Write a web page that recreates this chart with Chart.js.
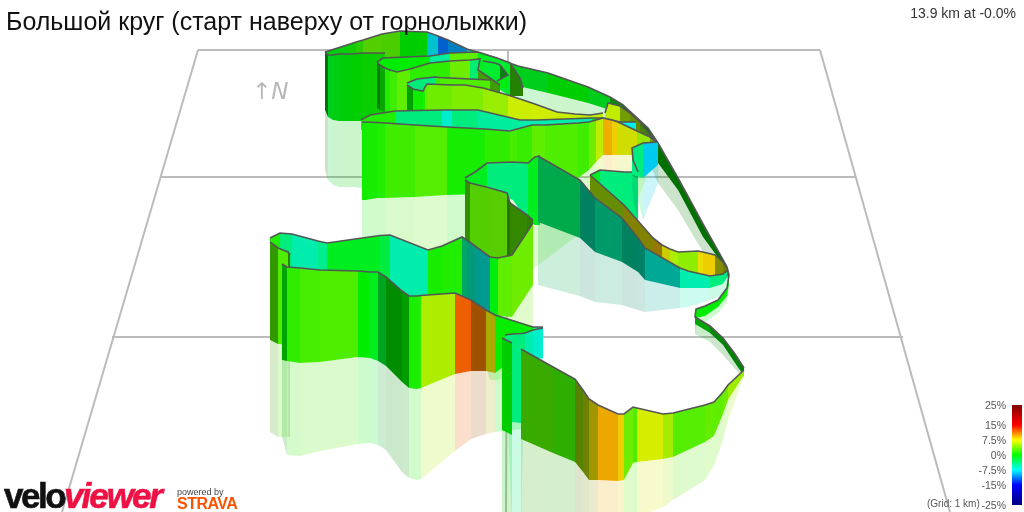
<!DOCTYPE html>
<html>
<head>
<meta charset="utf-8">
<title>Большой круг</title>
<script src="https://cdn.jsdelivr.net/npm/chart.js@4"></script>
<style>
  html, body { margin: 0; padding: 0; background: #fff; }
  #wrap { position: relative; width: 1024px; height: 512px; overflow: hidden; font-family: "Liberation Sans", Arial, sans-serif; }
  #wrap div, #wrap span { position: absolute; white-space: nowrap; }
  canvas { position: absolute; left: 0; top: 0; }
  #title { left: 6px; top: 6px; font-size: 25px; line-height: 30px; color: #111; }
  #stats { right: 8px; top: 4px; font-size: 14px; line-height: 18px; color: #333; }
  #north { left: 252px; top: 78px; font: italic 23px/26px "DejaVu Sans", sans-serif; color: #b8b8b8; }
  #gridNote { left: 927px; top: 498px; font-size: 10px; line-height: 12px; color: #555; }
  #bar { left: 1012px; top: 405px; width: 10px; height: 100px; }
  .tick { right: 18px; font-size: 10.5px; line-height: 12px; color: #555; }
  #velo { left: 4px; top: 476px; font: bold 35px/40px "Liberation Sans", sans-serif; letter-spacing: -2.5px; color: #111; -webkit-text-stroke: 0.6px #111; }
  #viewer { left: 64px; top: 476px; font: italic bold 35px/40px "Liberation Sans", sans-serif; letter-spacing: -2px; color: #ee1144; -webkit-text-stroke: 0.6px #ee1144; }
  #powered { left: 177px; top: 486px; font-size: 9px; line-height: 12px; color: #444; }
  #strava { left: 177px; top: 495px; font: bold 16px/18px "Liberation Sans", sans-serif; letter-spacing: -0.5px; color: #fc5200; }
</style>
</head>
<body>
<div id="wrap">
  <canvas id="route3d" width="1024" height="512"></canvas>
  <div id="title">Большой круг (старт наверху от горнолыжки)</div>
  <div id="stats">13.9 km at -0.0%</div>
  <div id="north">↑N</div>
  <div id="gridNote">(Grid: 1 km)</div>
  <div id="bar"></div>
  <div id="velo">velo</div>
  <div id="viewer">viewer</div>
  <div id="powered">powered by</div>
  <div id="strava">STRAVA</div>
</div>
<script>
// ── Legend ──
const legendGrades = [25, 15, 7.5, 0, -7.5, -15, -25];
const legendLabels = ['25%', '15%', '7.5%', '0%', '-7.5%', '-15%', '-25%'];
const legendRgb = [[128,0,0], [255,0,0], [255,255,0], [0,255,0], [0,255,255], [0,0,255], [0,0,128]];

// ── Ground grid (picture coordinates) ──
const gridBackX = [198, 820];   const gridBackY = [50, 50];
const gridMidX = [160, 855];    const gridMidY = [177, 177];
const gridFrontX = [112, 903];  const gridFrontY = [337, 337];
const gridLeftX = [198, 62];    const gridLeftY = [50, 512];
const gridRightX = [820, 950];  const gridRightY = [50, 512];
const gridCenterX = [508, 506]; const gridCenterY = [50, 512];

// ── Route walls, back to front: x, wall top, wall foot, shadow foot, grade % per strip ──
const backFarX = [325,347,356,363,382,400,427,438,448,467,487,518,548,588,610,623,648,658,678,703,727];
const backFarTop = [52,45,42,40,34,31,32,36,40,49,55,66,73,87,97,105,128,143,178,224,267];
const backFarBase = [100,100,100,100,100,100,100,100,100,100,75,86,93,103,110,118,143,163,190,237,270];
const backFarGhost = [100,100,100,100,100,100,100,100,100,100,80,108,113,125,135,140,160,183,210,252,272];
const backFarGrade = [-0.5,0.5,1.5,3,2.7,0,-8,-11.5,-10,-5,-1,-1,0,-1,0,0,0,0,0,0];

const topNearX = [325,328,333,339,345,352,362,372,385];
const topNearTop = [52,55,55,54,54,54,53,53,53];
const topNearBase = [110,117,120,121,121,121,121,121,121];
const topNearGhost = [170,180,185,187,187,187,188,188,188];
const topNearGrade = [-0.8,-1,-0.6,-0.3,-0.2,0,0.3,0.5];

const loopFarX = [377,383,430,450,478,487,497,510,520,523];
const loopFarTop = [62,58,56,53,52,55,58,63,78,88];
const loopFarBase = [75,75,75,75,75,80,88,96,96,96];
const loopFarGrade = [0,0,-5,3,-1,-1.5,-1.5,2,2.5];

const loopInnerX = [483,495,500,508,497];
const loopInnerTop = [61,63,65,75,81];
const loopInnerBase = [88,88,88,88,88];
const loopInnerGrade = [-1.5,-1.5,-0.5,-0.5];

const loopNearX = [377,380,385,390,397,410,430,450,470,480,478,490,500];
const loopNearTop = [62,65,68,70,72,69,63,61,60,59,70,78,85];
const loopNearBase = [108,110,112,114,116,116,116,116,116,116,110,110,110];
const loopNearGrade = [0,0.3,1,2,3,1.5,1.5,3.5,-3.5,-3.5,3,3];

const hairFarX = [407,417,435,440,470,490];
const hairFarTop = [83,79,77,77.5,79,80];
const hairFarBase = [92,92,92,92,92,92];
const hairFarGrade = [-4,-4,2,2.5,2.5];

const hairNearX = [407,413,423,425,427,452,465,483,508,532,557,575,590,603];
const hairNearTop = [85,89,91,87,84,85,85,88,95,103,112,114,115,113];
const hairNearBase = [122,122,122,122,122,122,122,122,122,122,122,122,122,122];
const hairNearGrade = [0,0.5,1,3,3.5,4,4,4.8,6.4,6.5,6.3,6,6];

const spikeX = [605,608,612,620,630,640,650,657];
const spikeTop = [113,103,104,106,113,122,135,143];
const spikeBase = [122,122,122,122,125,135,145,146];
const spikeGrade = [6,6,6,5.5,5.5,4,2];

const midFarX = [361,370,395,442,452,478,520,537,592,603,620,636];
const midFarTop = [120,115,111,110,110,110,120,120,118,118,122,122];
const midFarBase = [130,130,130,130,130,130,130,130,130,130,130,130];
const midFarGrade = [1,1,-4,-6.5,-4,-5,-5.5,-5.5,-1,0,-7.5];

const midNearX = [362,366,377,385,415,447,485,510,517,532,545,578,589,596,603,612,618,637,650,657];
const midNearTop = [122,122,122.5,123,125,127,129,131,129,125,125,123,122,120,118,120,122,131,137,142];
const midNearBase = [200,200,198,198,197,195,194,193,192,190,188,178,170,162,155,155,155,155,150,143];
const midNearGhost = [275,275,275,275,275,275,275,275,275,270,260,235,228,222,215,212,208,200,170,148];
const midNearGrade = [0.5,0.7,1,2,2.7,0.7,1.5,2.2,1.7,3,2.5,2,3.5,6,9.5,8.5,7,5,5];

const cuspFarX = [465,475,487,513,528,535,540];
const cuspFarTop = [178,172,163,162,163,157,156];
const cuspFarBase = [190,190,190,200,222,225,225];
const cuspFarGrade = [-1,-1,-4,-4,-1,-1];

const cuspNearX = [465,470,490,507,510,527,533];
const cuspNearTop = [180,183,188,193,203,215,220];
const cuspNearBase = [262,262,262,262,262,262,262];
const cuspNearGrade = [2.5,3,3.2,3,2.8,2.8];

const pocketX = [590,600,612,625,638];
const pocketTop = [175,170,171,172,172];
const pocketBase = [200,200,205,215,220];
const pocketGrade = [-1,-4,-4,-4];

const cyanX = [638,633,632,643,658];
const cyanTop = [172,160,148,143,142];
const cyanBase = [178,176,175,178,165];
const cyanGhost = [220,200,178,220,183];
const cyanGrade = [-4,-4,-4,-8.6];

const oliveX = [590,624,653,662,670,678,698,703,715,723,727];
const oliveTop = [175,205,238,245,249,252,251,252,255,262,268];
const oliveBase = [192,222,258,268,270,272,274,276,276,275,272];
const oliveGrade = [5.5,7.5,9,7.5,5.5,4.5,8,8.5,7,6];

const panelX = [538,580,595,622,638,645,680,688,710,723,728];
const panelTop = [156,180,198,218,238,248,268,271,276,274,270];
const panelBase = [222,238,252,262,272,280,288,288,288,284,276];
const panelGhost = [285,296,302,305,310,312,308,307,300,295,285];
const panelGrade = [-3.3,-5.6,-5.2,-5.6,-6,-6.6,-5.5,-5.6,-4,-4];

const bandX = [270,280,292,318,327,380,390,428,442,462,467,475,490,498,512,533];
const bandTop = [238,233,234,241,243,235.5,235,250,246,237,240,246,257,258,255,223];
const bandBase = [250,300,330,330,330,330,330,330,330,330,330,330,315,316,317,285];
const bandGhost = [250,300,330,330,330,330,330,330,330,330,330,330,380,380,375,340];
const bandGrade = [1,-4,-5.5,-4.5,-1,-2,-5.5,0.7,1,-4.5,-6,-7,-0.5,3,3.5];

const capX = [270,278,288,290];
const capTop = [242,248,252,255];
const capBase = [340,344,345,345];
const capGhost = [432,437,437,437];
const capGrade = [2.5,2.5,2.5];

const frontX = [282,287,300,320,358,370,378,386,402,409,417,421,455,471,486,495,533,543];
const frontTop = [264,267,268,270,271,272,272,277,291,296,296,295.5,293,300,310,315,327,327];
const frontBase = [360,361,363,362,357,358,361,366,382,388,389,388,374,371,371,373,345,340];
const frontGhost = [437,455,456,451,444,443,445,450,472,478,480,479,451,439,434,432,428,428];
const frontGrade = [0,1.5,2.2,2.5,0,-1,-1.5,0,0,0.8,1,5.5,12,11.2,7.5,0.2,-5];

const turnFarX = [505,512,521,525,533,543];
const turnFarTop = [335,334,333.5,333,330,328];
const turnFarBase = [345,422,423,360,360,358];
const turnFarGhost = [345,525,525,360,360,358];
const turnFarGrade = [-4,-4,-4,-5.5,-6.5];

const turnNearX = [502,512];
const turnNearTop = [338,343];
const turnNearBase = [430,435];
const turnNearGhost = [525,525];
const turnNearGrade = [0];

const tipX = [727,729,727,718,705,696,695,710,723,735,744];
const tipTop = [267,275,288,300,306,309,317,326,338,354,368];
const tipBase = [272,284,296,307,316,318,324,333,345,363,376];
const tipGhost = [277,290,302,313,322,326,334,342,355,369,378];
const tipGrade = [0,0,0,0,0,0,-0.3,-0.3,-0.3,-0.3];

const lastX = [521,553,575,583,589,598,618,624,633,637,663,673,705,714,723,728,744];
const lastTop = [349,367,379,390,399,405,414,414,407,408,414,413,405,402,392,385,370];
const lastBase = [439,453,462,472,480,480,481,480,463,462,459,457,442,436,414,400,375];
const lastGhost = [525,525,525,525,525,525,525,525,519,517,507,500,480,465,440,420,376];
const lastGrade = [2.5,2,5,6.2,8,9.7,8.5,3.5,2.5,6.8,5.2,2.7,3.2,3,3.5,5];

const ribbons = [
  { x: backFarX,   top: backFarTop,   base: backFarBase,   ghost: backFarGhost,  grade: backFarGrade,   dim: 0.87 },
  { x: topNearX,   top: topNearTop,   base: topNearBase,   ghost: topNearGhost,  grade: topNearGrade,   dim: 0.87 },
  { x: loopFarX,   top: loopFarTop,   base: loopFarBase,   grade: loopFarGrade },
  { x: loopInnerX, top: loopInnerTop, base: loopInnerBase, grade: loopInnerGrade },
  { x: loopNearX,  top: loopNearTop,  base: loopNearBase,  grade: loopNearGrade },
  { x: hairFarX,   top: hairFarTop,   base: hairFarBase,   grade: hairFarGrade },
  { x: hairNearX,  top: hairNearTop,  base: hairNearBase,  grade: hairNearGrade },
  { x: spikeX,     top: spikeTop,     base: spikeBase,     grade: spikeGrade },
  { x: midFarX,    top: midFarTop,    base: midFarBase,    grade: midFarGrade },
  { x: midNearX,   top: midNearTop,   base: midNearBase,   ghost: midNearGhost,  grade: midNearGrade },
  { x: cuspFarX,   top: cuspFarTop,   base: cuspFarBase,   grade: cuspFarGrade },
  { x: cuspNearX,  top: cuspNearTop,  base: cuspNearBase,  grade: cuspNearGrade,  dim: 0.87 },
  { x: pocketX,    top: pocketTop,    base: pocketBase,    grade: pocketGrade },
  { x: cyanX,      top: cyanTop,      base: cyanBase,      ghost: cyanGhost,     grade: cyanGrade },
  { x: oliveX,     top: oliveTop,     base: oliveBase,     grade: oliveGrade },
  { x: panelX,     top: panelTop,     base: panelBase,     ghost: panelGhost,    grade: panelGrade },
  { x: bandX,      top: bandTop,      base: bandBase,      ghost: bandGhost,     grade: bandGrade },
  { x: capX,       top: capTop,       base: capBase,       ghost: capGhost,      grade: capGrade },
  { x: frontX,     top: frontTop,     base: frontBase,     ghost: frontGhost,    grade: frontGrade },
  { x: turnFarX,   top: turnFarTop,   base: turnFarBase,   ghost: turnFarGhost,  grade: turnFarGrade },
  { x: turnNearX,  top: turnNearTop,  base: turnNearBase,  ghost: turnNearGhost, grade: turnNearGrade },
  { x: tipX,       top: tipTop,       base: tipBase,       ghost: tipGhost,      grade: tipGrade },
  { x: lastX,      top: lastTop,      base: lastBase,      ghost: lastGhost,     grade: lastGrade },
];

// ── Cores ──
function gradeRgb(g) {
  const v = Math.max(-25, Math.min(25, g));
  let i = 0;
  while (i < legendGrades.length - 2 && v < legendGrades[i + 1]) i++;
  const t = (legendGrades[i] - v) / (legendGrades[i] - legendGrades[i + 1]);
  return legendRgb[i].map((c, k) => c + (legendRgb[i + 1][k] - c) * t);
}

// walls facing away from the light (falling to the right on screen) are darker
function slopeShade(slope) {
  if (slope <= 0.45) return 1;
  if (slope <= 0.55) return 1 - (slope - 0.45) * 2.8;
  if (slope <= 1) return 0.72 - (slope - 0.55) * 0.38;
  return 0.55;
}

function stripColor(grade, slope, dim, alpha) {
  const s = slopeShade(slope) * 0.93 * dim;
  const [r, g, b] = gradeRgb(grade).map(c => Math.round(c * s));
  return `rgba(${r},${g},${b},${alpha})`;
}

// ── Datasets ──
const datasets = [];
const pts = (xs, ys) => xs.map((x, i) => ({ x, y: ys[i] }));
const flat = { pointRadius: 0, pointHoverRadius: 0, borderWidth: 0, tension: 0 };

function addGrid(xs, ys) {
  datasets.push({ ...flat, data: pts(xs, ys), borderColor: '#bbbbbb', borderWidth: 2, fill: false });
}

function addRibbon(r) {
  for (let i = 0; i < r.grade.length; i++) {
    // each strip runs left to right so that the fill can pair the two edges
    const a = r.x[i] <= r.x[i + 1] ? i : i + 1;
    const b = a === i ? i + 1 : i;
    const x0 = r.x[a], x1 = r.x[b];
    if (x0 === x1) continue;
    const slope = (r.top[b] - r.top[a]) / (x1 - x0);
    const dim = r.dim || 1;
    datasets.push({ ...flat,
      data: [{ x: x0, y: r.top[a] }, { x: x1, y: r.top[b] }],
      fill: '+1',
      backgroundColor: stripColor(r.grade[i], slope, dim, 1),
    });
    datasets.push({ ...flat,
      data: [{ x: x0, y: r.base[a] }, { x: x1, y: r.base[b] }],
      fill: r.ghost ? '+1' : false,
      backgroundColor: stripColor(r.grade[i], slope, dim, 0.2),
    });
    if (r.ghost) {
      datasets.push({ ...flat,
        data: [{ x: x0, y: r.ghost[a] }, { x: x1, y: r.ghost[b] }],
        fill: false,
      });
    }
  }
  datasets.push({ ...flat, data: pts(r.x, r.top), borderColor: '#555555', borderWidth: 1.6, fill: false });
}

addGrid(gridBackX, gridBackY);
addGrid(gridMidX, gridMidY);
addGrid(gridFrontX, gridFrontY);
addGrid(gridLeftX, gridLeftY);
addGrid(gridRightX, gridRightY);
addGrid(gridCenterX, gridCenterY);
ribbons.forEach(addRibbon);

// later entries paint over earlier ones
datasets.forEach((d, i) => { d.order = datasets.length - i; });

new Chart(document.getElementById('route3d'), {
  type: 'line',
  data: { datasets },
  options: {
    responsive: false,
    animation: false,
    events: [],
    layout: { padding: 0 },
    plugins: { legend: { display: false }, tooltip: { enabled: false }, title: { display: false } },
    scales: {
      x: { type: 'linear', min: 0, max: 1024, display: false },
      y: { type: 'linear', min: 0, max: 512, reverse: true, display: false },
    },
  },
});

// ── Legenda ──
const wrap = document.getElementById('wrap');
legendGrades.forEach((g, i) => {
  const el = document.createElement('div');
  el.className = 'tick';
  el.textContent = legendLabels[i];
  el.style.top = (405 + (25 - g) * 2 - 6) + 'px';
  wrap.appendChild(el);
});
document.getElementById('bar').style.background = 'linear-gradient(to bottom,' +
  legendGrades.map((g, i) => `rgb(${legendRgb[i].join(',')}) ${(25 - g) * 2}%`).join(',') + ')';
</script>
</body>
</html>
